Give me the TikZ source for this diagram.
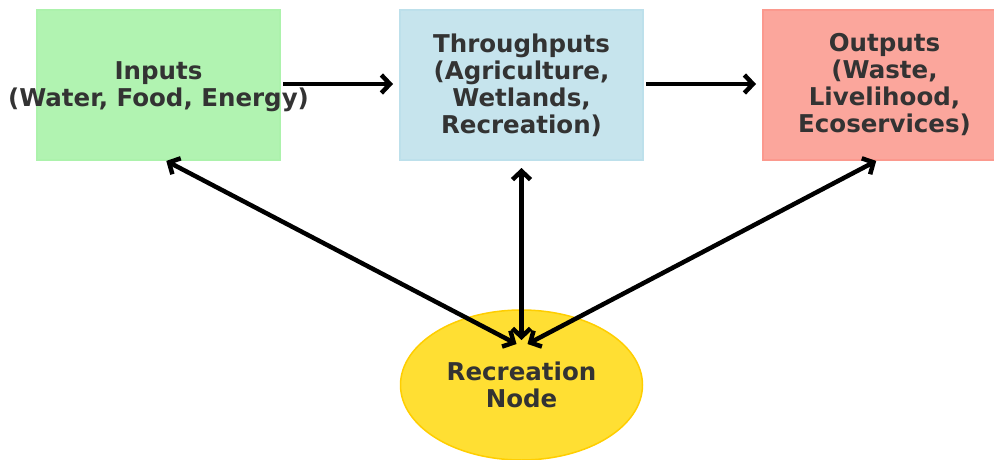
\documentclass[tikz,border=0pt]{standalone}
\usepackage{fontspec}
\newfontfamily\boxfont{DejaVu Sans}
\usetikzlibrary{positioning,shapes.geometric,arrows.meta}

\definecolor{lightgreen}{HTML}{90EE90}
\definecolor{lightblue}{HTML}{ADD8E6}
\definecolor{salmon}{HTML}{FA8072}
\definecolor{gold}{HTML}{FFD700}
\definecolor{textgray}{HTML}{333333}

\begin{document}
\begin{tikzpicture}[
        x=1pt, y=-1pt,
        stage/.style={
                rectangle,
                line width=1.5pt,
                outer sep=0pt,
                minimum width=243pt,
                minimum height=150pt
            },
        hub/.style={
                ellipse,
                line width=1.5pt,
                outer sep=0pt,
                draw=gold!90!orange,
                fill=gold!80!white,
                minimum width=242pt,
                minimum height=150pt
            },
        caption/.style={
                font=\boxfont\bfseries\fontsize{24.5}{27}\selectfont,
                text=textgray,
                align=center
            },
        flow/.style={
                line width=4.5pt,
                -{Straight Barb[length=8.5pt,width=18pt]}
            },
        link/.style={
                line width=4.5pt,
                {Straight Barb[length=8.5pt,width=18pt]}-{Straight Barb[length=8.5pt,width=18pt]}
            }
    ]
    \useasboundingbox (0,0) rectangle (994,460);

    \node[stage, fill=lightgreen!70!white, draw=lightgreen!75!white] (Inputs) at (158.5,85) {};
    \node[caption] at ([yshift=-1.5pt]Inputs.center) {Inputs\\(Water, Food, Energy)};
    \node[stage, fill=lightblue!70!white, draw=lightblue!80!white, right=120pt of Inputs, caption] (Throughputs) {Throughputs\\(Agriculture,\\Wetlands,\\Recreation)};
    \node[stage, fill=salmon!70!white, draw=salmon!80!white, right=120pt of Throughputs, caption] (Outputs) {Outputs\\(Waste,\\Livelihood,\\Ecoservices)};
    \node[hub, below=150pt of Throughputs, caption] (Recreation) {Recreation\\Node};

    % tips inside the ellipse
    \coordinate (RecLeft) at ([xshift=-5pt,yshift=41pt]Recreation.center);
    \coordinate (RecMid) at ([yshift=45pt]Recreation.center);
    \coordinate (RecRight) at ([xshift=6pt,yshift=41pt]Recreation.center);

    \draw[flow, shorten <=3pt, shorten >=7pt] (Inputs.east |- 0,84) -- (Throughputs.west |- 0,84);
    \draw[flow, shorten <=3pt, shorten >=7pt] (Throughputs.east |- 0,84) -- (Outputs.west |- 0,84);
    \draw[link, shorten <=2pt] ([xshift=6pt]Inputs.south) -- (RecLeft);
    \draw[link, shorten <=8pt] (Throughputs.south) -- (RecMid);
    \draw[link, shorten <=2pt] ([xshift=-6.5pt]Outputs.south) -- (RecRight);
\end{tikzpicture}
\end{document}
